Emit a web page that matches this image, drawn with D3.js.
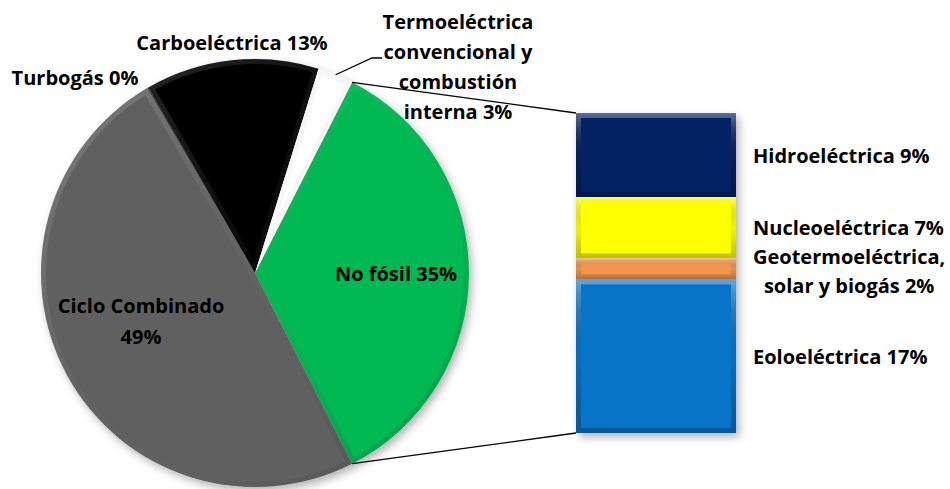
<!doctype html>
<html lang="es">
<head>
<meta charset="utf-8">
<title>Generación por tecnología</title>
<script src="https://cdn.jsdelivr.net/npm/d3@7"></script>
<style>
  body { margin: 0; background: #fff; }
  text { font-family: "Open Sans", Lato, sans-serif; font-weight: 700; font-size: 20px; fill: #000; }
</style>
</head>
<body>
<svg width="950" height="489"></svg>
<script>
// pie data (percent of total generation)
const pieCats = ["No fósil", "Ciclo Combinado", "Turbogás", "Carboeléctrica", "Termoeléctrica convencional y combustión interna"];
const pieVals = [35.0, 49.1, 0.1, 13.1, 2.7];
const pieColors = ["#00b953", "#606060", "#303030", "#000000", "#ffffff"];
const pieLabelLines = [["No fósil"], ["Ciclo Combinado"], ["Turbogás"], ["Carboeléctrica"], ["Termoeléctrica", "convencional y", "combustión", "interna"]];

// breakdown of "No fósil"
const barCats = ["Hidroeléctrica", "Nucleoeléctrica", "Geotermoeléctrica, solar y biogás", "Eoloeléctrica"];
const barVals = [9.2, 6.7, 2.3, 16.8];
const barColors = ["#032263", "#ffff00", "#f39550", "#0874c8"];
const barLabelLines = [["Hidroeléctrica"], ["Nucleoeléctrica"], ["Geotermoeléctrica,", "solar y biogás"], ["Eoloeléctrica"]];

const svg = d3.select("svg");
const cx = 255, cy = 273, R = 214;
const deg = Math.PI / 180;

const defs = svg.append("defs");
const shadow = defs.append("filter").attr("id", "shadow")
  .attr("x", "-20%").attr("y", "-20%").attr("width", "140%").attr("height", "140%");
shadow.append("feDropShadow").attr("dx", 3).attr("dy", 4).attr("stdDeviation", 4)
  .attr("flood-color", "#000").attr("flood-opacity", 0.3);

const bevelPie = defs.append("linearGradient").attr("id", "bevelPie")
  .attr("gradientUnits", "userSpaceOnUse")
  .attr("x1", -R).attr("y1", -R).attr("x2", R).attr("y2", R);
bevelPie.append("stop").attr("offset", 0).attr("stop-color", "#fff").attr("stop-opacity", 0.2);
bevelPie.append("stop").attr("offset", 0.5).attr("stop-color", "#888").attr("stop-opacity", 0.06);
bevelPie.append("stop").attr("offset", 1).attr("stop-color", "#000").attr("stop-opacity", 0.18);

const bevelBar = defs.append("linearGradient").attr("id", "bevelBar")
  .attr("x1", 0).attr("y1", 0).attr("x2", 0).attr("y2", 1);
bevelBar.append("stop").attr("offset", 0).attr("stop-color", "#fff").attr("stop-opacity", 0.35);
bevelBar.append("stop").attr("offset", 0.5).attr("stop-color", "#000").attr("stop-opacity", 0.05);
bevelBar.append("stop").attr("offset", 1).attr("stop-color", "#000").attr("stop-opacity", 0.25);

// ---- pie ----
const pie = d3.pie().sort(null).value(d => d)
  .startAngle(27 * deg).endAngle(387 * deg);
const arcs = pie(pieVals);
const arc = d3.arc().innerRadius(0).outerRadius(R);

const pg = svg.append("g").attr("transform", `translate(${cx},${cy})`);
pg.append("g").attr("filter", "url(#shadow)")
  .selectAll("path").data(arcs).join("path")
  .attr("d", arc).attr("fill", (d, i) => pieColors[i]);

arcs.forEach((d, i) => {
  if (d.endAngle - d.startAngle < 0.01) return;
  defs.append("clipPath").attr("id", "pc" + i).append("path").attr("d", arc(d));
  pg.append("path").attr("d", arc(d)).attr("clip-path", `url(#pc${i})`)
    .attr("fill", "none").attr("stroke", "url(#bevelPie)").attr("stroke-width", 10);
});

// ---- bar ----
const bx = 576, bw = 160;
const y = d3.scaleLinear().domain([0, d3.sum(barVals)]).range([113, 433]);
const stacked = [];
let acc = 0;
barVals.forEach((v, i) => { stacked.push({ i, y0: acc, y1: acc + v, v }); acc += v; });

const bg = svg.append("g");
bg.append("rect").attr("x", bx).attr("y", y(0)).attr("width", bw).attr("height", y(acc) - y(0))
  .attr("fill", "#fff").attr("filter", "url(#shadow)");
bg.selectAll("rect.seg").data(stacked).join("rect").attr("class", "seg")
  .attr("x", bx).attr("y", d => y(d.y0)).attr("width", bw).attr("height", d => y(d.y1) - y(d.y0))
  .attr("fill", d => barColors[d.i]);
stacked.forEach(d => {
  defs.append("clipPath").attr("id", "bc" + d.i).append("rect")
    .attr("x", bx).attr("y", y(d.y0)).attr("width", bw).attr("height", y(d.y1) - y(d.y0));
  bg.append("rect").attr("clip-path", `url(#bc${d.i})`)
    .attr("x", bx).attr("y", y(d.y0)).attr("width", bw).attr("height", y(d.y1) - y(d.y0))
    .attr("fill", "none").attr("stroke", "url(#bevelBar)").attr("stroke-width", 10);
});

// ---- connector lines from "No fósil" slice to bar ----
const nf = arcs[0];
const edge = a => [cx + R * Math.sin(a), cy - R * Math.cos(a)];
const p1 = edge(nf.startAngle), p2 = edge(nf.endAngle);
svg.append("line").attr("x1", p1[0]).attr("y1", p1[1]).attr("x2", bx).attr("y2", y(0))
  .attr("stroke", "#000").attr("stroke-width", 1.3);
svg.append("line").attr("x1", p2[0]).attr("y1", p2[1]).attr("x2", bx).attr("y2", y(acc))
  .attr("stroke", "#000").attr("stroke-width", 1.3);

// ---- pie labels ----
// label anchor offsets from the pie centre
const pieLabelPos = [[141, 0], [-114, 48], [-180, -196], [-23, -231], [203, -207]];
arcs.forEach((d, i) => {
  const lines = pieLabelLines[i].slice();
  const pct = Math.round(pieVals[i]) + "%";
  if (i === 1) lines.push(pct); else lines[lines.length - 1] += " " + pct;
  const n = lines.length;
  const lineH = i === 1 ? 31 : 30;
  const t = svg.append("text").attr("text-anchor", "middle");
  lines.forEach((l, k) => {
    t.append("tspan").attr("x", cx + pieLabelPos[i][0])
      .attr("y", cy + pieLabelPos[i][1] + (k - (n - 1) / 2) * lineH)
      .attr("dominant-baseline", "central").text(l);
  });
});

// leader for the small "Termoeléctrica" slice
const tm = arcs[4];
const mid = (tm.startAngle + tm.endAngle) / 2;
const lp = edge(mid);
svg.append("polyline")
  .attr("points", [lp, [372, 58], [382, 58]].map(p => p.join(",")).join(" "))
  .attr("fill", "none").attr("stroke", "#000").attr("stroke-width", 1.3);

// ---- bar labels ----
const lx = 753;
stacked.forEach(d => {
  const lines = barLabelLines[d.i].slice();
  lines[lines.length - 1] += " " + Math.round(d.v) + "%";
  const n = lines.length;
  const yc = (y(d.y0) + y(d.y1)) / 2 + (n > 1 ? 2 : 0);
  const t = svg.append("text").attr("text-anchor", n > 1 ? "middle" : "start");
  const tsp = lines.map((l, k) => t.append("tspan").attr("x", lx)
    .attr("y", yc + (k - (n - 1) / 2) * 29).attr("dominant-baseline", "central").text(l));
  if (n > 1) {
    const w = d3.max(tsp, s => s.node().getComputedTextLength());
    tsp.forEach(s => s.attr("x", lx + w / 2));
  }
});
</script>
</body>
</html>
